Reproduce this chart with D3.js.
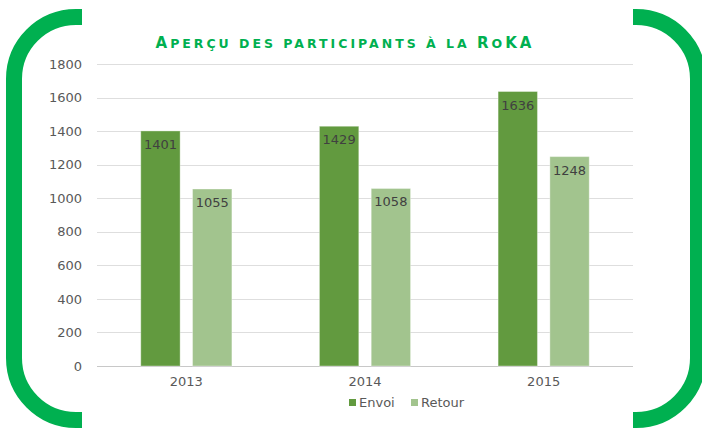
<!DOCTYPE html>
<html>
<head>
<meta charset="utf-8">
<script src="https://cdn.jsdelivr.net/npm/d3@7"></script>
<style>
  body { margin: 0; background: #fff; }
  svg text { font-family: "DejaVu Sans", Verdana, sans-serif; }
</style>
</head>
<body>
<svg id="chart" width="702" height="428"></svg>
<script>
// data
var years = ["2013", "2014", "2015"];
var seriesNames = ["Envoi", "Retour"];
var envoi = [1401, 1429, 1636];
var retour = [1055, 1058, 1248];
var yTicks = [0, 200, 400, 600, 800, 1000, 1200, 1400, 1600, 1800];
var colors = ["#629a3f", "#a2c48e"];
var titleText = "Aperçu des participants à la RoKA";

var svg = d3.select("#chart");
var margin = {left: 97, right: 69, top: 64, bottom: 62};
var W = 702, H = 428;

// frame brackets (rounded rect with top and bottom middle cut out)
var fr = {l: 14, r: 698, t: 17, b: 420, rad: 62, cutL: 82, cutR: 633};
var green = "#00b050";
function bracket(side) {
  var p = d3.path();
  if (side == "left") {
    p.moveTo(fr.cutL, fr.t);
    p.lineTo(fr.l + fr.rad, fr.t);
    p.arcTo(fr.l, fr.t, fr.l, fr.t + fr.rad, fr.rad);
    p.lineTo(fr.l, fr.b - fr.rad);
    p.arcTo(fr.l, fr.b, fr.l + fr.rad, fr.b, fr.rad);
    p.lineTo(fr.cutL, fr.b);
  } else {
    p.moveTo(fr.cutR, fr.t);
    p.lineTo(fr.r - fr.rad, fr.t);
    p.arcTo(fr.r, fr.t, fr.r, fr.t + fr.rad, fr.rad);
    p.lineTo(fr.r, fr.b - fr.rad);
    p.arcTo(fr.r, fr.b, fr.r - fr.rad, fr.b, fr.rad);
    p.lineTo(fr.cutR, fr.b);
  }
  return p.toString();
}
["left", "right"].forEach(function(s) {
  svg.append("path")
    .attr("d", bracket(s))
    .attr("fill", "none")
    .attr("stroke", green)
    .attr("stroke-width", 16);
});

// title in small caps, built letter by letter (caps big, lowercase small)
var title = svg.append("text")
  .attr("x", 345)
  .attr("y", 48)
  .attr("text-anchor", "middle")
  .style("font-weight", "bold")
  .style("fill", green);
titleText.split("").forEach(function(ch) {
  var isCap = ch != ch.toLowerCase();
  title.append("tspan")
    .style("font-size", isCap ? "15px" : "12.5px")
    .text(ch.toUpperCase());
});
// stretch to the reference width
var natural = title.node().getComputedTextLength();
var spacing = Math.max(0, (376 - natural) / (titleText.length - 1));
title.style("letter-spacing", spacing + "px");

var x0 = d3.scaleBand().domain(years)
  .range([margin.left, W - margin.right])
  .paddingInner(0.49).paddingOuter(0.245);
var x1 = d3.scaleBand().domain(seriesNames)
  .range([0, x0.bandwidth()])
  .paddingInner(0.24);
var y = d3.scaleLinear().domain([0, 1800]).range([H - margin.bottom, margin.top]);

// gridlines
svg.append("g").selectAll("line")
  .data(yTicks)
  .enter().append("line")
  .attr("x1", margin.left)
  .attr("x2", W - margin.right)
  .attr("y1", function(d) { return Math.round(y(d)) + 0.5; })
  .attr("y2", function(d) { return Math.round(y(d)) + 0.5; })
  .attr("stroke", function(d) { return d == 0 ? "#c8c8c8" : "#dedede"; })
  .attr("stroke-width", 1);

// y axis labels
var yAxis = d3.axisLeft(y).tickValues(yTicks).tickFormat(d3.format("d")).tickSize(0).tickPadding(15);
var gy = svg.append("g")
  .attr("transform", "translate(" + margin.left + ",0)")
  .call(yAxis);
gy.select(".domain").remove();
gy.selectAll("text")
  .style("font-size", "13px")
  .style("fill", "#595959")
  .style("font-family", "DejaVu Sans, Verdana, sans-serif");

// x axis labels
var xAxis = d3.axisBottom(x0).tickSize(0).tickPadding(11);
var gx = svg.append("g")
  .attr("transform", "translate(0," + y(0) + ")")
  .call(xAxis);
gx.select(".domain").remove();
gx.selectAll("text")
  .style("font-size", "13px")
  .style("fill", "#595959")
  .style("font-family", "DejaVu Sans, Verdana, sans-serif");

// bars
var rows = years.map(function(yr, i) {
  return {year: yr, vals: [
    {name: "Envoi", v: envoi[i]},
    {name: "Retour", v: retour[i]}
  ]};
});

var groups = svg.selectAll(".grp")
  .data(rows)
  .enter().append("g")
  .attr("class", "grp")
  .attr("transform", function(d) { return "translate(" + x0(d.year) + ",0)"; });

groups.selectAll("rect")
  .data(function(d) { return d.vals; })
  .enter().append("rect")
  .attr("x", function(d) { return x1(d.name); })
  .attr("y", function(d) { return y(d.v); })
  .attr("width", x1.bandwidth())
  .attr("height", function(d) { return y(0) - y(d.v); })
  .style("fill", function(d, i) { return colors[i]; })
  .style("stroke", "#ffffff")
  .style("stroke-opacity", 0.35)
  .style("stroke-width", 1);

groups.selectAll(".lbl")
  .data(function(d) { return d.vals; })
  .enter().append("text")
  .attr("class", "lbl")
  .attr("x", function(d) { return x1(d.name) + x1.bandwidth() / 2; })
  .attr("y", function(d) { return y(d.v) + 18; })
  .attr("text-anchor", "middle")
  .style("font-size", "13px")
  .style("fill", "#404040")
  .text(function(d) { return d.v; });

// legend
var legX = [349, 411];
var leg = svg.selectAll(".leg")
  .data(seriesNames)
  .enter().append("g")
  .attr("class", "leg")
  .attr("transform", function(d, i) { return "translate(" + legX[i] + ",399)"; });
leg.append("rect")
  .attr("width", 7).attr("height", 7)
  .style("fill", function(d, i) { return colors[i]; });
leg.append("text")
  .attr("x", 10)
  .attr("y", 8)
  .style("font-size", "13px")
  .style("fill", "#595959")
  .text(function(d) { return d; });
</script>
</body>
</html>
